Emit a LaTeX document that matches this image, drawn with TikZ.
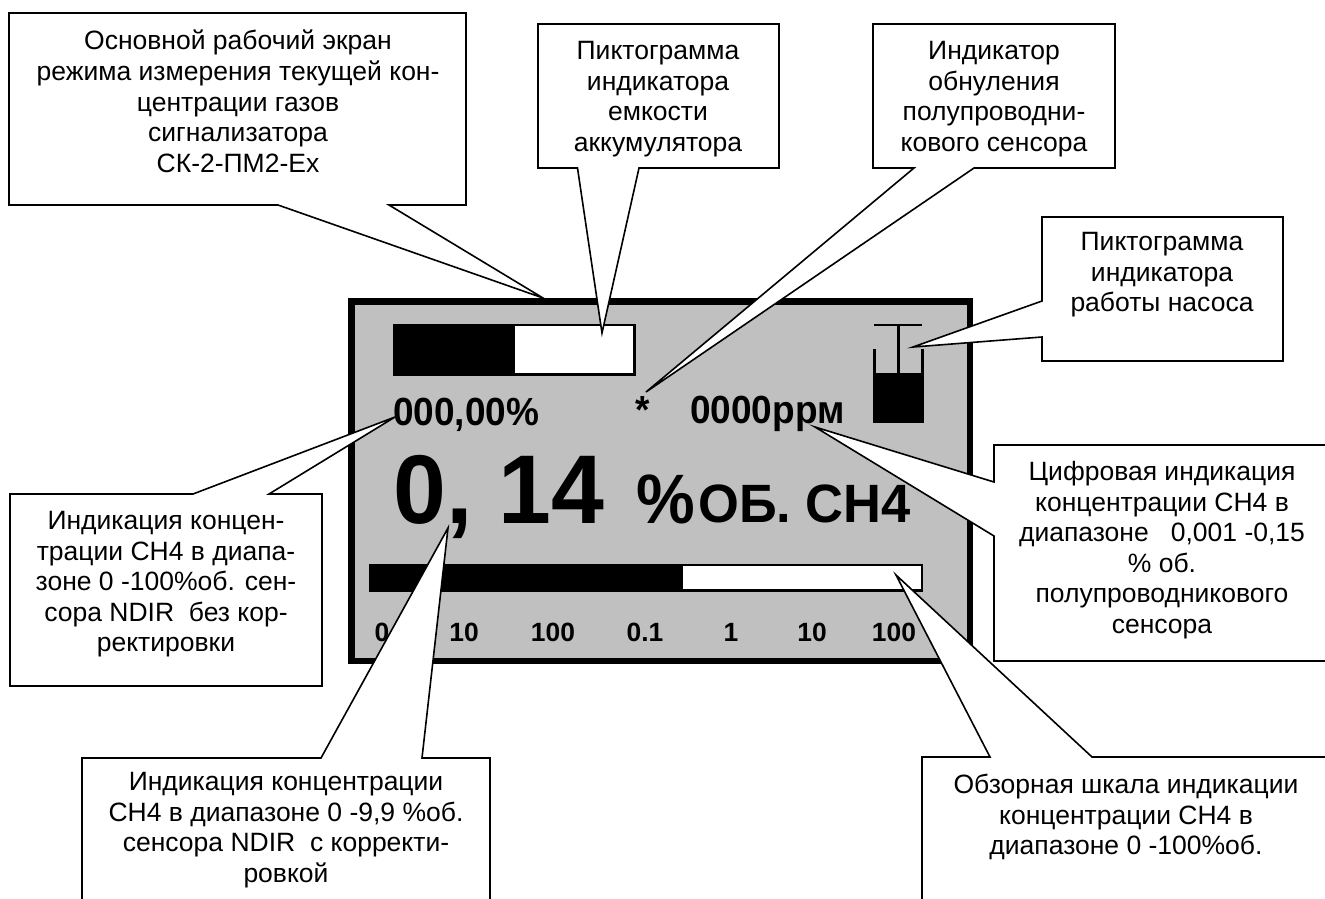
\documentclass[tikz,border=0pt]{standalone}
\usepackage{fontspec}
\setmainfont{Liberation Sans}
\usepackage{xcolor}
\definecolor{screen}{RGB}{192,192,192}
\tikzset{
  calloutshape/.style={draw=black, fill=white, line width=1.6pt, line join=miter},
  callouttext/.style={anchor=north, inner sep=0pt, align=center, font=\fontsize{26.5}{30.6}\selectfont},
  readout/.style={anchor=base west, inner sep=0pt, transform shape, yscale=1.06, font=\fontsize{37}{37}\selectfont\bfseries},
  bigreadout/.style={readout, yscale=0.97},
  scalemark/.style={anchor=base, inner sep=0pt, font=\fontsize{26.4}{26.4}\selectfont\bfseries},
}

\begin{document}
\begin{tikzpicture}[x=1pt, y=-1pt]
\clip[use as bounding box] (0,0) rectangle (1325,898);

% screen
\draw[line width=6.5pt, fill=screen] (351.5,301.5) rectangle (970,661);
\draw[line width=2.5pt, fill=white] (394,325) rectangle (634.5,374.5);
\fill (393,324) rectangle (515,375.5);
\draw[line width=2.5pt, fill=white] (370,565) rectangle (922,590.5);
\fill (369,564) rectangle (683,591.5);

% pump icon
\fill (873,373) rectangle (924,423);
\draw[line width=2.5pt] (874.5,373) -- (874.5,349) (922.5,373) -- (922.5,349);
\draw[line width=2.5pt] (874,325) -- (922,325) (898.5,325) -- (898.5,373);

\node[readout] (percentval) at (393,425) {000,00\%};
\node[readout] (zeromark) at (635,423) {*};
\node[readout] (ppmval) at (690,423) {0000ррм};
\node[bigreadout, font=\fontsize{95}{95}\selectfont\bfseries] (bigval) at (393,523) {0, 14};
\node[readout, font=\fontsize{66}{66}\selectfont\bfseries] (bigunit) at (636,523) {\%};
\node[bigreadout, font=\fontsize{52.5}{52.5}\selectfont\bfseries] (bigname) at (698,522) {ОБ. СН4};

\node[scalemark] (marka) at (393,641) {0.1};
\node[scalemark] (markb) at (464,641) {10};
\node[scalemark] (markc) at (553,641) {100};
\node[scalemark] (markd) at (645,641) {0.1};
\node[scalemark] (marke) at (731,641) {1};
\node[scalemark] (markf) at (812,641) {10};
\node[scalemark] (markg) at (894,641) {100};

% callouts
\draw[calloutshape] (9,13) -- (466,13) -- (466,205) -- (389,205) -- (543,298) -- (278,205) -- (9,205) -- cycle;
\node[callouttext] (mainnote) at (238,30) {Основной рабочий экран\\режима измерения текущей кон-\\центрации газов\\сигнализатора\\СК-2-ПМ2-Ех};

\draw[calloutshape] (538,24) -- (779,24) -- (779,168) -- (639,168) -- (602,333) -- (577.5,168) -- (538,168) -- cycle;
\node[callouttext] (batterynote) at (658,41) {Пиктограмма\\индикатора\\емкости\\аккумулятора};

\draw[calloutshape] (873,24) -- (1115,24) -- (1115,168) -- (974,168) -- (646,392) -- (914,168) -- (873,168) -- cycle;
\node[callouttext] (zeronote) at (994,41) {Индикатор\\обнуления\\полупроводни-\\кового сенсора};

\draw[calloutshape] (1042,217) -- (1283,217) -- (1283,361) -- (1042,361) -- (1042,337) -- (913,347) -- (1042,301) -- cycle;
\node[callouttext] (pumpnote) at (1162,232) {Пиктограмма\\индикатора\\работы насоса};

\draw[calloutshape] (994,445) -- (1340,445) -- (1340,661) -- (994,661) -- (994,536) -- (815,427) -- (994,482) -- cycle;
\node[callouttext] (ppmnote) at (1162,461) {Цифровая индикация\\концентрации СН4 в\\диапазоне\ \ \ 0,001 -0,15\\\% об.\\полупроводникового\\сенсора};

\draw[calloutshape] (922,757) -- (990,757) -- (896,575) -- (1092,757) -- (1340,757) -- (1340,915) -- (922,915) -- cycle;
\node[callouttext] (scalenote) at (1126,774) {Обзорная шкала индикации\\концентрации СН4 в\\диапазоне 0 -100\%об.};

\draw[calloutshape] (10,494) -- (193,494) -- (395,417) -- (269,494) -- (322,494) -- (322,686) -- (10,686) -- cycle;
\node[callouttext] (percentnote) at (166,511) {Индикация концен-\\трации СН4 в диапа-\\зоне 0 -100\%об. сен-\\сора NDIR\ \ без кор-\\ректировки};

\draw[calloutshape] (82,758) -- (321,758) -- (448,528) -- (422,758) -- (490,758) -- (490,915) -- (82,915) -- cycle;
\node[callouttext] (bignote) at (286,772) {Индикация концентрации\\СН4 в диапазоне 0 -9,9 \%об.\\сенсора NDIR\ \ с корректи-\\ровкой};
\end{tikzpicture}
\end{document}
